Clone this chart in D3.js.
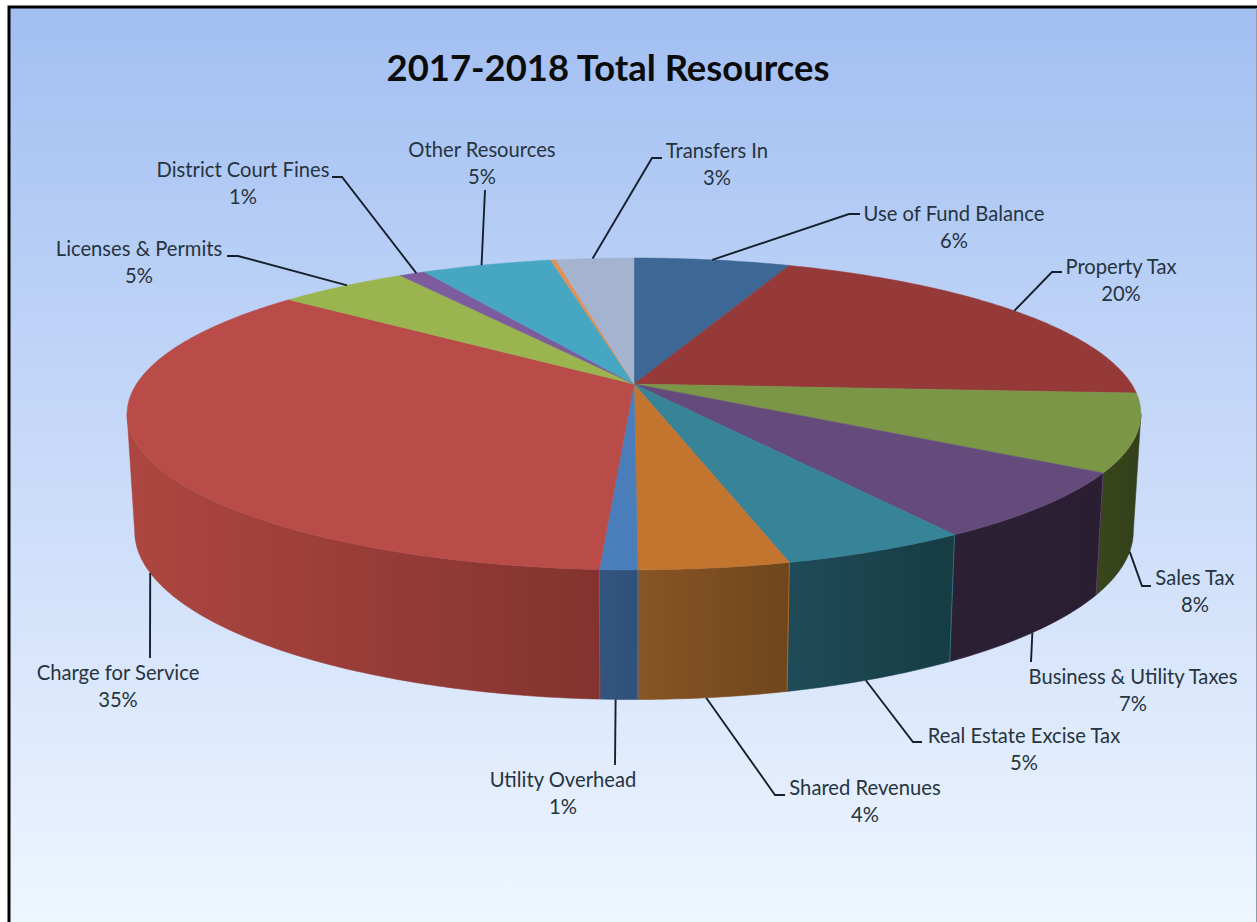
<!DOCTYPE html>
<html>
<head>
<meta charset="utf-8">
<title>2017-2018 Total Resources</title>
<script src="https://cdn.jsdelivr.net/npm/d3@7/dist/d3.min.js"></script>
<style>
  html, body { margin: 0; padding: 0; background: #fff; overflow: hidden; }
  svg { display: block; }
  text { font-family: Lato, "Open Sans", sans-serif; }
</style>
</head>
<body>
<svg id="chart" width="1257" height="922"></svg>
<script>
// Resource categories, clockwise from twelve o'clock.
const categories = [
  "Use of Fund Balance", "Property Tax", "Sales Tax", "Business & Utility Taxes",
  "Real Estate Excise Tax", "Shared Revenues", "Utility Overhead", "Charge for Service",
  "Licenses & Permits", "District Court Fines", "Other Resources", "", "Transfers In"
];
// Percent of total resources; the sliver before Transfers In carries no label.
const shares = [6, 20, 8, 7, 5, 4, 1, 35, 5, 1, 5, 0.2, 3];

const topColors = ["#3d6794", "#953a38", "#7a9646", "#654a7c", "#378397", "#c3742f", "#4a7ebb",
                   "#b94c49", "#9ab44f", "#7c5c9c", "#47a6c1", "#e39050", "#a3b3d0"];
// Side wall shades: [left end, right end].
const wallColors = [
  ["#2c4a6c", "#2c4a6c"], ["#6b2a28", "#6b2a28"], ["#3a471d", "#333f19"], ["#2c2034", "#2a1f32"],
  ["#1f4b58", "#163c44"], ["#885525", "#6f461c"], ["#33557f", "#2f5078"], ["#ad4641", "#83332f"],
  ["#6f8239", "#6f8239"], ["#594270", "#594270"], ["#337b8e", "#337b8e"], ["#a86a36", "#a86a36"],
  ["#7a869c", "#7a869c"]
];

// Label placement: centre of the text, the leader's elbow and stub, and how many
// degrees along the rim the leader's foot sits from the middle of its slice.
const labelLayout = [
  { cx: 954,  cy: 213, elbow: [849, 214], stub: [860, 214], face: "top" },
  { cx: 1121, cy: 266, elbow: [1052, 272], stub: [1062, 272], face: "top" },
  { cx: 1195, cy: 577, elbow: [1142, 586], stub: [1151, 586], face: "base" },
  { cx: 1133, cy: 676, elbow: [1031, 662], stub: null, face: "base", nudge: 0.7 },
  { cx: 1024, cy: 735, elbow: [913, 742], stub: [922, 742], face: "base", nudge: 0.8 },
  { cx: 865,  cy: 787, elbow: [775, 795], stub: [785, 795], face: "base", nudge: 0.7 },
  { cx: 563,  cy: 779, elbow: [615, 765], stub: null, face: "base", nudge: 0.3 },
  { cx: 118,  cy: 672, elbow: [150, 658], stub: null, face: "base", nudge: -0.9 },
  { cx: 139,  cy: 248, elbow: [238, 256], stub: [227, 256], face: "top", nudge: 0.75 },
  { cx: 243,  cy: 169, elbow: [342, 177], stub: [332, 177], face: "top", nudge: 0.6 },
  { cx: 482,  cy: 149, elbow: [485, 190], stub: null, face: "top", nudge: -0.7 },
  null,
  { cx: 717,  cy: 150, elbow: [652, 158], stub: [662, 158], face: "top", nudge: -0.3 }
];

const W = 1257, H = 922;
const svg = d3.select("#chart");
const defs = svg.append("defs");

// Tilted disc: the unit circle goes through a perspective divide, so the hub
// sits above the centre of the visible ellipse and the near edge looks larger.
const tilt = 0.192;
const faces = {
  top:  { x: d3.scaleLinear().domain([-1, 1]).range([634 - 497.5, 634 + 497.5]),
          y: d3.scaleLinear().domain([-1, 1]).range([384 - 150.2, 384 + 150.2]) },
  base: { x: d3.scaleLinear().domain([-1, 1]).range([634 - 490, 634 + 490]),
          y: d3.scaleLinear().domain([-1, 1]).range([499 - 162, 499 + 162]) }
};
function project(angle, face, r = 1) {
  const u = r * Math.sin(angle), v = -r * Math.cos(angle);
  const d = 1 - tilt * v;
  return [faces[face].x(u / d), faces[face].y(v / d)];
}

const pie = d3.pie().sort(null).value(d => d)(shares);
const line = d3.line();
const steps = (a0, a1) => d3.range(0, 1.0001, 1 / Math.max(2, Math.ceil((a1 - a0) * 90)))
  .map(t => a0 + (a1 - a0) * t);

// Backdrop and frame
const bg = defs.append("linearGradient").attr("id", "bg").attr("x1", 0).attr("y1", 0).attr("x2", 0).attr("y2", 1);
[["0%", "#a2bff2"], ["45%", "#c5d8f8"], ["85%", "#e3edfd"], ["100%", "#eef7ff"]]
  .forEach(([o, c]) => bg.append("stop").attr("offset", o).attr("stop-color", c));
svg.append("rect").attr("x", 10).attr("y", 8).attr("width", W - 11).attr("height", H - 8).attr("fill", "url(#bg)");
svg.append("path").attr("d", `M9,${H}V7H${W}`).attr("fill", "none").attr("stroke", "#000").attr("stroke-width", 3);
svg.append("path").attr("d", `M${W - 0.5},8V${H}`).attr("fill", "none").attr("stroke", "#8f9bb0").attr("stroke-width", 1);

svg.append("text").attr("x", 608).attr("y", 67).attr("text-anchor", "middle").attr("dominant-baseline", "central")
  .attr("font-size", 36.4).attr("font-weight", 700).attr("fill", "#0c0c0c").text("2017-2018 Total Resources");

// Side walls: only the part of the rim that faces the viewer.
const visibleFrom = Math.PI / 2 + Math.asin(tilt);
const visibleTo = 3 * Math.PI / 2 - Math.asin(tilt);
const walls = svg.append("g");
pie.forEach((s, i) => {
  const a0 = Math.max(s.startAngle, visibleFrom), a1 = Math.min(s.endAngle, visibleTo);
  if (a1 <= a0) return;
  const upper = steps(a0, a1).map(a => project(a, "top"));
  const lower = steps(a0, a1).map(a => project(a, "base")).reverse();
  const xs = upper.concat(lower).map(p => p[0]);
  // Clockwise along the near rim runs right to left, so the gradient follows x.
  const grad = defs.append("linearGradient").attr("id", `wall${i}`).attr("gradientUnits", "userSpaceOnUse")
    .attr("x1", d3.min(xs)).attr("x2", d3.max(xs)).attr("y1", 0).attr("y2", 0);
  grad.append("stop").attr("offset", "0%").attr("stop-color", wallColors[i][0]);
  grad.append("stop").attr("offset", "100%").attr("stop-color", wallColors[i][1]);
  walls.append("path").attr("d", line(upper.concat(lower)) + "Z")
    .attr("fill", `url(#wall${i})`).attr("stroke", `url(#wall${i})`).attr("stroke-width", 0.6);
  // Lit seam along the slice's leading edge.
  if (s.startAngle >= visibleFrom) {
    walls.append("path").attr("d", line([project(a0, "top"), project(a0, "base")]))
      .attr("stroke", topColors[i]).attr("stroke-opacity", 0.7).attr("stroke-width", 1).attr("fill", "none");
  }
});

// Top faces
const hub = project(0, "top", 0);
const tops = svg.append("g");
pie.forEach((s, i) => {
  const rim = steps(s.startAngle, s.endAngle).map(a => project(a, "top"));
  tops.append("path").attr("d", line([hub, ...rim]) + "Z")
    .attr("fill", topColors[i]).attr("stroke", topColors[i]).attr("stroke-width", 0.5);
});

// Leader lines and labels
const notes = svg.append("g");
pie.forEach((s, i) => {
  const layout = labelLayout[i];
  if (!layout) return;
  const foot = (s.startAngle + s.endAngle) / 2 + (layout.nudge || 0) * Math.PI / 180;
  const pts = [project(foot, layout.face), layout.elbow];
  if (layout.stub) pts.push(layout.stub);
  notes.append("path").attr("d", line(pts)).attr("fill", "none").attr("stroke", "#16202c").attr("stroke-width", 1.9);
  [categories[i], `${shares[i]}%`].forEach((txt, k) => {
    notes.append("text").attr("x", layout.cx).attr("y", layout.cy + k * 27)
      .attr("text-anchor", "middle").attr("dominant-baseline", "central")
      .attr("font-size", 20.2).attr("fill", "#26343f").text(txt);
  });
});
</script>
</body>
</html>
